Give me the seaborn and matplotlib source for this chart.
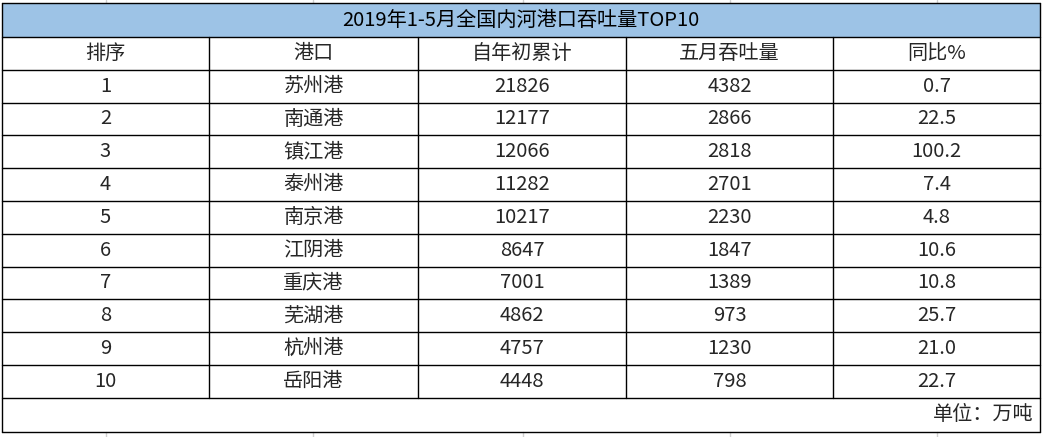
import matplotlib
matplotlib.use("Agg")
import matplotlib.pyplot as plt
import seaborn as sns
import pandas as pd

sns.set_theme(style="white")
plt.rcParams['font.family'] = ['Noto Sans CJK SC', 'DejaVu Sans']

title = "2019年1-5月全国内河港口吞吐量TOP10"
headers = ["排序", "港口", "自年初累计", "五月吞吐量", "同比%"]
rank = [1, 2, 3, 4, 5, 6, 7, 8, 9, 10]
ports = ["苏州港", "南通港", "镇江港", "泰州港", "南京港", "江阴港", "重庆港", "芜湖港", "杭州港", "岳阳港"]
ytd = [21826, 12177, 12066, 11282, 10217, 8647, 7001, 4862, 4757, 4448]
may = [4382, 2866, 2818, 2701, 2230, 1847, 1389, 973, 1230, 798]
yoy = ["0.7", "22.5", "100.2", "7.4", "4.8", "10.6", "10.8", "25.7", "21.0", "22.7"]
unit = "单位：万吨"

df = pd.DataFrame({headers[0]: rank, headers[1]: ports, headers[2]: ytd,
                   headers[3]: may, headers[4]: yoy})

W, H = 1048, 437
fig = plt.figure(figsize=(W / 100, H / 100), dpi=100)
ax = fig.add_axes([0, 0, 1, 1])
ax.set_xlim(0, W)
ax.set_ylim(H, 0)
ax.axis("off")

cols = [2, 209, 418, 626, 833, 1040]
top, ttl_b = 3, 37
rh = 32.8
hdr_b = ttl_b + rh
n = len(df)
data_b = hdr_b + n * rh
bottom = 432
fs = 14.5

for x in [106, 313, 523, 730, 937]:
    ax.plot([x, x], [0, top], color="#d0d0d0", lw=1)
    ax.plot([x, x], [bottom, H], color="#d0d0d0", lw=1)

ax.add_patch(plt.Rectangle((cols[0], top), cols[-1] - cols[0], ttl_b - top,
                           facecolor="#9DC3E6", edgecolor="none"))
ax.text((cols[0] + cols[-1]) / 2, (top + ttl_b) / 2, title, ha="center", va="center",
        fontsize=fs, color="black")

ys = [top, ttl_b] + [ttl_b + rh * (i + 1) for i in range(n + 1)] + [bottom]
for y in ys:
    ax.plot([cols[0], cols[-1]], [y, y], color="black", lw=1)
for x in [cols[0], cols[-1]]:
    ax.plot([x, x], [top, bottom], color="black", lw=1)
for x in cols[1:-1]:
    ax.plot([x, x], [ttl_b, data_b], color="black", lw=1)

for j, h in enumerate(headers):
    ax.text((cols[j] + cols[j + 1]) / 2, ttl_b + rh / 2, h, ha="center", va="center", fontsize=fs)
for i, row in enumerate(df.itertuples(index=False)):
    yc = hdr_b + rh * i + rh / 2
    for j, v in enumerate(row):
        ax.text((cols[j] + cols[j + 1]) / 2, yc, str(v), ha="center", va="center", fontsize=fs)

ax.text(cols[-1] - 6, (data_b + bottom) / 2, unit, ha="right", va="center", fontsize=fs)

fig.savefig("out.png", dpi=100)
